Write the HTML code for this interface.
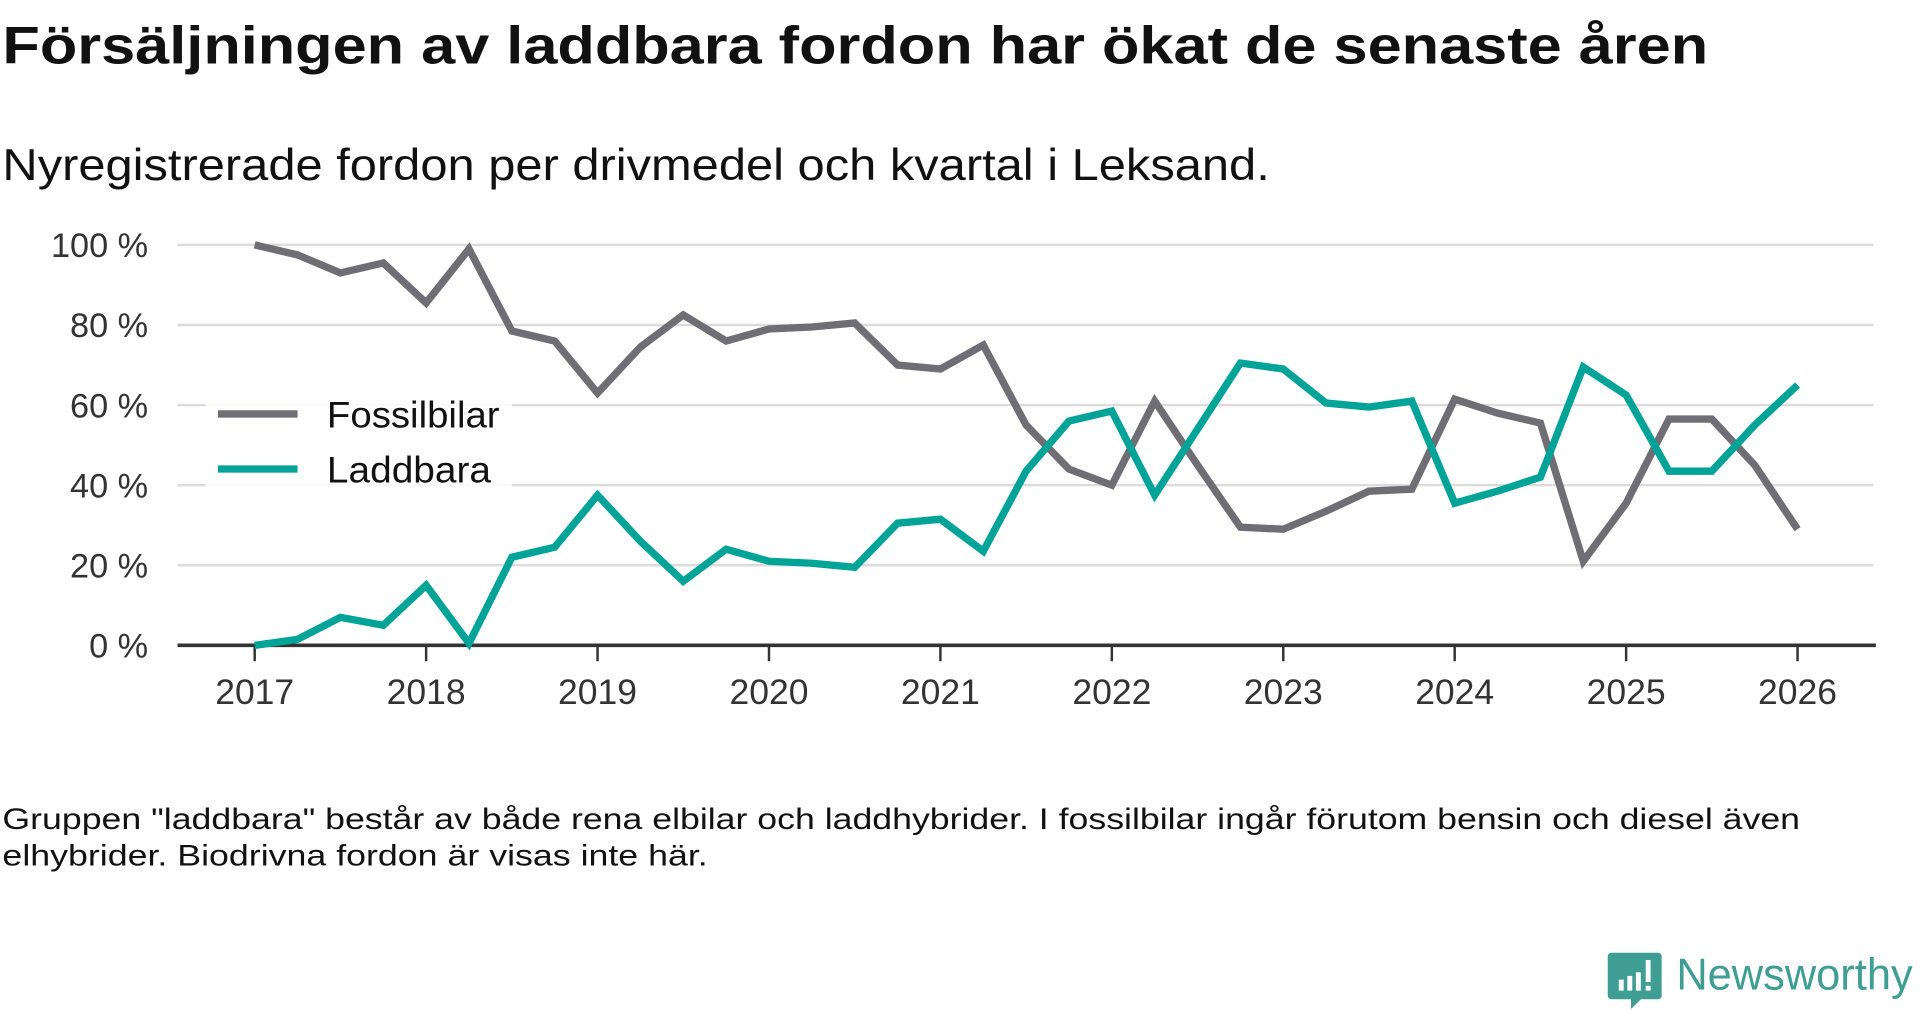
<!DOCTYPE html>
<html><head><meta charset="utf-8"><style>
html,body{margin:0;padding:0;background:#fff;}
svg{display:block;font-family:"Liberation Sans",sans-serif;}
</style></head><body>
<svg width="1920" height="1010" viewBox="0 0 1568 824.8" preserveAspectRatio="none">
<text x="2" y="52" font-size="43" font-weight="bold" fill="#111" textLength="1393" lengthAdjust="spacingAndGlyphs">Försäljningen av laddbara fordon har ökat de senaste åren</text>
<text x="2" y="147" font-size="36" fill="#111" textLength="1035" lengthAdjust="spacingAndGlyphs">Nyregistrerade fordon per drivmedel och kvartal i Leksand.</text>
<g id="grid"></g>
<g id="xaxis"></g>
<g id="lines"></g>
<g id="legend">
<rect x="168" y="316" width="250" height="90" fill="#fff" opacity="0.85"/>
<line x1="178" y1="338" x2="243" y2="338" stroke="#6f6e75" stroke-width="6"/>
<text x="267" y="349" font-size="30" fill="#111" textLength="141" lengthAdjust="spacingAndGlyphs">Fossilbilar</text>
<line x1="178" y1="383" x2="243" y2="383" stroke="#00a398" stroke-width="6"/>
<text x="267" y="394" font-size="30" fill="#111" textLength="134" lengthAdjust="spacingAndGlyphs">Laddbara</text>
</g>
<text x="2" y="677" font-size="24" fill="#111" textLength="1468" lengthAdjust="spacingAndGlyphs">Gruppen "laddbara" består av både rena elbilar och laddhybrider. I fossilbilar ingår förutom bensin och diesel även</text>
<text x="2" y="707" font-size="24" fill="#111" textLength="576" lengthAdjust="spacingAndGlyphs">elhybrider. Biodrivna fordon är visas inte här.</text>
<g>
<path d="M1316 778 h38 a3 3 0 0 1 3 3 v32 a3 3 0 0 1 -3 3 h-14 l-8 8 v-8 h-16 a3 3 0 0 1 -3 -3 v-32 a3 3 0 0 1 3 -3z" fill="#3f9e94"/>
<rect x="1322" y="800" width="4" height="9" fill="#fff"/><rect x="1329" y="797" width="4" height="12" fill="#fff"/><rect x="1336" y="794" width="4" height="15" fill="#fff"/><rect x="1344" y="784" width="4" height="18" fill="#fff"/><rect x="1344" y="805" width="4" height="4" fill="#fff"/>
<text x="1369" y="808" font-size="36" fill="#3f9e94" textLength="193" lengthAdjust="spacingAndGlyphs">Newsworthy</text>
</g>
<script>
const years=[2017,2018,2019,2020,2021,2022,2023,2024,2025,2026];
const yTicks=[0,20,40,60,80,100];
const fossil=[100,97.5,93,95.5,85.5,99,78.5,76,63,74.5,82.5,76,79,79.5,80.5,70,69,75,55,44,40,61,45,29.5,29,33.5,38.5,39,61.5,58,55.5,21,35.5,56.5,56.5,45,29];
const laddbara=[0,1.5,7,5,15,0.5,22,24.5,37.5,26,16,24,21,20.5,19.5,30.5,31.5,23.5,43.5,56,58.5,37.5,54,70.5,69,60.5,59.5,61,35.5,38.5,42,69.5,62.5,43.5,43.5,55,65];
const NS="http://www.w3.org/2000/svg";
const X=t=>208+(t-2017)*140;
const Y=v=>527-v*3.27;
function mk(tag,attrs,parent){const e=document.createElementNS(NS,tag);for(const k in attrs)e.setAttribute(k,attrs[k]);parent.appendChild(e);return e;}
const grid=document.getElementById('grid'),xa=document.getElementById('xaxis'),ln=document.getElementById('lines');
yTicks.forEach(v=>{
 if(v>0){const g=mk('line',{x1:145,x2:1530,y1:Y(v),y2:Y(v),stroke:'#dcdcdc','stroke-width':2},grid);
 
 }
 const t=mk('text',{x:121,y:Y(v)+10,'font-size':28,fill:'#333','text-anchor':'end'},grid);
 t.textContent=v+' %';
 
 
});
const base=mk('line',{x1:145,x2:1532,y1:527,y2:527,stroke:'#333','stroke-width':3},xa);


years.forEach(yr=>{
 const tk=mk('line',{x1:X(yr),x2:X(yr),y1:527,y2:540,stroke:'#333','stroke-width':2},xa);
 
 
 const t=mk('text',{x:X(yr),y:575,'font-size':29,fill:'#333','text-anchor':'middle'},xa);
 t.textContent=yr;
 
 
});
function series(arr,color,name){
 const pts=arr.map((v,i)=>X(2017+i/4)+','+Y(v)).join(' ');
 const p=mk('polyline',{points:pts,fill:'none',stroke:color,'stroke-width':6,'stroke-linejoin':'miter'},ln);
 
 
}
series(fossil,'#6f6e75','line-fossilbilar');
series(laddbara,'#00a398','line-laddbara');
</script>
</svg>
</body></html>
